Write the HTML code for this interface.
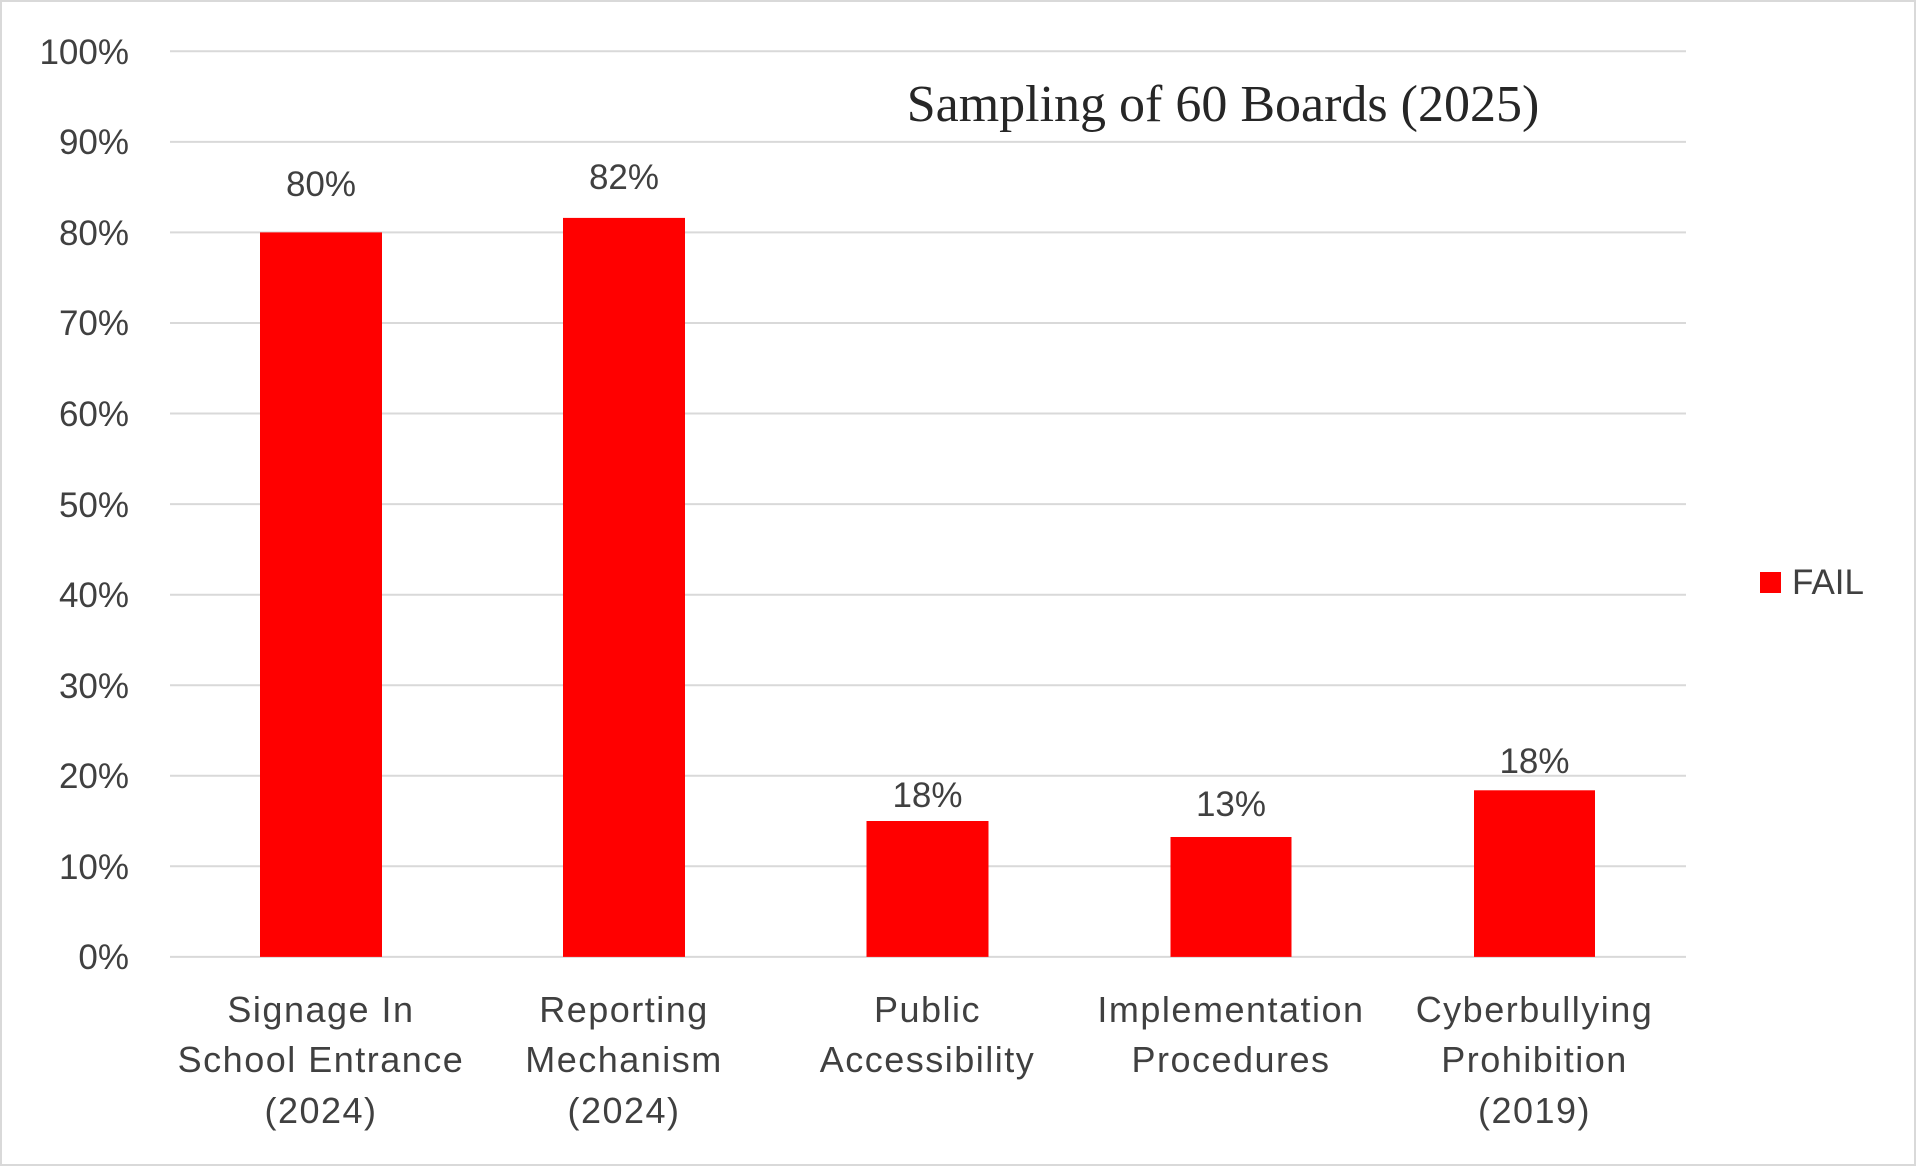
<!DOCTYPE html>
<html><head><meta charset="utf-8"><style>
html,body{margin:0;padding:0;background:#fff}
svg{display:block}
text{font-family:"Liberation Sans",sans-serif;fill:#404040}
</style></head><body>
<svg width="1916" height="1166" viewBox="0 0 1916 1166">
<rect x="1" y="1" width="1914" height="1164" fill="#fff" stroke="#d9d9d9" stroke-width="2"/>
<g stroke="#d9d9d9" stroke-width="2">
<line x1="170" x2="1686" y1="51.3" y2="51.3"/>
<line x1="170" x2="1686" y1="141.9" y2="141.9"/>
<line x1="170" x2="1686" y1="232.4" y2="232.4"/>
<line x1="170" x2="1686" y1="323" y2="323"/>
<line x1="170" x2="1686" y1="413.5" y2="413.5"/>
<line x1="170" x2="1686" y1="504.1" y2="504.1"/>
<line x1="170" x2="1686" y1="594.7" y2="594.7"/>
<line x1="170" x2="1686" y1="685.2" y2="685.2"/>
<line x1="170" x2="1686" y1="775.8" y2="775.8"/>
<line x1="170" x2="1686" y1="866.3" y2="866.3"/>
<line x1="170" x2="1686" y1="956.9" y2="956.9"/>
</g>
<g font-size="35" text-anchor="end">
<text x="129" y="64">100%</text>
<text x="129" y="154">90%</text>
<text x="129" y="245">80%</text>
<text x="129" y="335">70%</text>
<text x="129" y="426">60%</text>
<text x="129" y="517">50%</text>
<text x="129" y="607">40%</text>
<text x="129" y="698">30%</text>
<text x="129" y="788">20%</text>
<text x="129" y="879">10%</text>
<text x="129" y="969">0%</text>
</g>
<g fill="#ff0000">
<rect x="260" y="232.4" width="122" height="724.5"/>
<rect x="563" y="217.9" width="122" height="739"/>
<rect x="866.5" y="821" width="122" height="135.9"/>
<rect x="1170.5" y="837" width="121" height="119.9"/>
<rect x="1474" y="790.3" width="121" height="166.6"/>
</g>
<g font-size="35" text-anchor="middle">
<text x="321" y="196">80%</text>
<text x="624" y="189">82%</text>
<text x="927.5" y="807">18%</text>
<text x="1231" y="816">13%</text>
<text x="1534.5" y="773">18%</text>
</g>
<g font-size="36" text-anchor="middle" letter-spacing="1.5">
<text x="321" y="1022">Signage In</text>
<text x="321" y="1072">School Entrance</text>
<text x="321" y="1123">(2024)</text>
<text x="624" y="1022">Reporting</text>
<text x="624" y="1072">Mechanism</text>
<text x="624" y="1123">(2024)</text>
<text x="927.5" y="1022">Public</text>
<text x="927.5" y="1072">Accessibility</text>
<text x="1231" y="1022">Implementation</text>
<text x="1231" y="1072">Procedures</text>
<text x="1534.5" y="1022">Cyberbullying</text>
<text x="1534.5" y="1072">Prohibition</text>
<text x="1534.5" y="1123">(2019)</text>
</g>
<text x="1223" y="121" font-size="52" text-anchor="middle" style="font-family:'Liberation Serif',serif;fill:#262626">Sampling of 60 Boards (2025)</text>
<rect x="1760" y="572" width="21" height="21" fill="#ff0000"/>
<text x="1792" y="594" font-size="35">FAIL</text>
</svg>
</body></html>
